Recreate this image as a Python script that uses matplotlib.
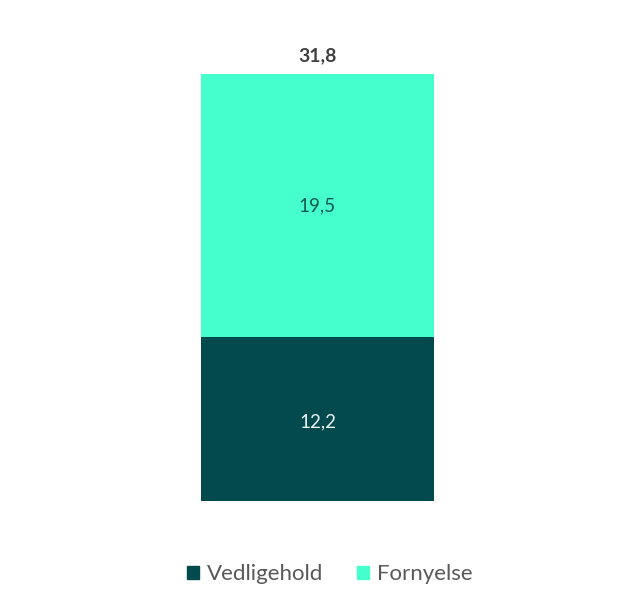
import matplotlib
matplotlib.use("Agg")
import matplotlib.pyplot as plt
from matplotlib.patches import Patch

# data
categories = [""]
vedlikehold = [12.2]
fornyelse = [19.5]
totals = [31.8]   # as printed in the source (rounded from unrounded parts)
series_names = ["Vedligehold", "Fornyelse"]
colors = ["#034a4e", "#45ffcc"]


def fmt(v):
    return ("%.1f" % v).replace(".", ",")


plt.rcParams['font.family'] = ['Lato', 'DejaVu Sans']

fig = plt.figure(figsize=(6.32, 6.12), dpi=100)
ax = fig.add_axes([0, 0, 1, 1])

x = range(len(categories))
width = 0.6
ax.bar(x, vedlikehold, width=width, color=colors[0])
ax.bar(x, fornyelse, width=width, bottom=vedlikehold, color=colors[1])

for i in x:
    v1 = vedlikehold[i]
    v2 = fornyelse[i]
    ax.text(i, v1 / 2 - 0.2, fmt(v1), ha="center", va="center",
            color="#e8f4f4", fontsize=13.5)
    ax.text(i, v1 + v2 / 2, fmt(v2), ha="center", va="center",
            color="#12584f", fontsize=13.5)
    ax.text(i, v1 + v2 + 1.4, fmt(totals[i]), ha="center", va="center",
            color="#404040", fontsize=14, fontweight="bold")

ax.set_xlim(-0.8176, 0.8099)
ax.set_ylim(-8.25, 37.22)
ax.axis("off")

handles = [Patch(color=c) for c in colors]
fig.legend(handles, series_names, loc="center", bbox_to_anchor=(0.522, 0.062),
           ncol=2, frameon=False, fontsize=16, labelcolor="#595959",
           handlelength=0.55, handleheight=0.55, handletextpad=0.35,
           columnspacing=1.5)

plt.savefig("out.png", dpi=100)
